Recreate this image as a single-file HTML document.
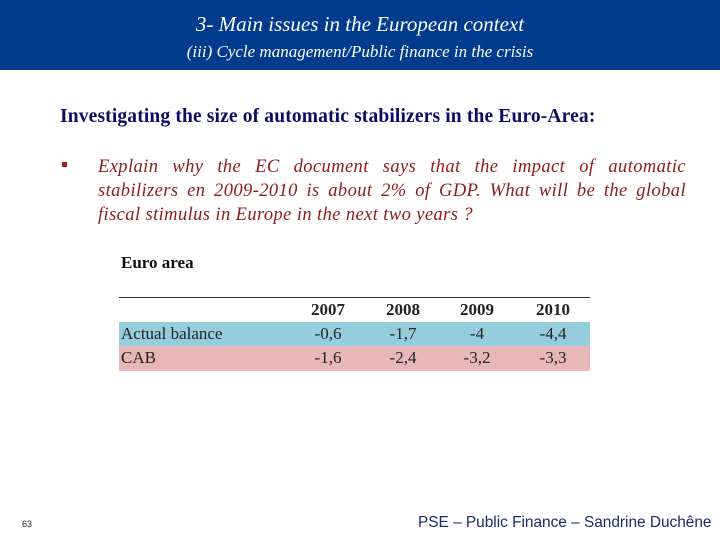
<!DOCTYPE html>
<html><head><meta charset="utf-8"><style>
body{margin:0;width:720px;height:540px;position:relative;background:#fff;overflow:hidden;font-family:"Liberation Serif",serif}
.a{position:absolute}
#hdr{left:0;top:0;width:720px;height:70px;background:#003b8e;color:#fff;font-style:italic;text-align:center}
#t1{top:12px;width:720px;font-size:21px}
#t2{top:42px;width:720px;font-size:17px}
#inv{left:60px;top:106px;font-size:19.5px;letter-spacing:0.15px;font-weight:bold;color:#0c0c66;white-space:nowrap}
#bul{left:62px;top:162px;width:5px;height:5px;background:#b01818}
#para{left:98px;top:155px;width:588px;font-size:18.5px;letter-spacing:0.4px;font-style:italic;color:#8e1b1b;line-height:24px}
#para .j{display:block;text-align:justify;text-align-last:justify;white-space:nowrap}
#ea{left:121px;top:253px;font-size:17px;font-weight:bold;color:#111}
#rule{left:119px;top:297px;width:471px;height:1px;background:#333}
.row{left:119px;width:471px;height:24px;font-size:17px;color:#222}
.row span{position:absolute;top:2px;transform:translateX(-50%)}
#foot{left:418px;top:514px;font-family:"Liberation Sans",sans-serif;font-size:15.4px;color:#1a2a6a;white-space:nowrap}
#pg{left:22px;top:519px;font-family:"Liberation Sans",sans-serif;font-size:9px;color:#222}
</style></head><body>
<div id="hdr" class="a">
<div id="t1" class="a">3- Main issues in the European context</div>
<div id="t2" class="a">(iii) Cycle management/Public finance in the crisis</div>
</div>
<div id="inv" class="a">Investigating the size of automatic stabilizers in the Euro-Area:</div>
<div id="bul" class="a"></div>
<div id="para" class="a"><span class="j">Explain why the EC document says that the impact of automatic</span><span class="j">stabilizers en 2009-2010 is about 2% of GDP. What will be the global</span><span>fiscal stimulus in Europe in the next two years ?</span></div>
<div id="ea" class="a">Euro area</div>
<div id="rule" class="a"></div>
<div class="a row" style="top:298px;font-weight:bold">
<span style="left:209px">2007</span><span style="left:284px">2008</span><span style="left:358px">2009</span><span style="left:434px">2010</span></div>
<div class="a row" style="top:322px;background:#96cddd">
<span style="left:2px;transform:none">Actual balance</span><span style="left:209px">-0,6</span><span style="left:284px">-1,7</span><span style="left:358px">-4</span><span style="left:434px">-4,4</span></div>
<div class="a row" style="top:346px;height:25px;background:#e8b8b8">
<span style="left:2px;transform:none">CAB</span><span style="left:209px">-1,6</span><span style="left:284px">-2,4</span><span style="left:358px">-3,2</span><span style="left:434px">-3,3</span></div>
<div id="pg" class="a">63</div>
<div id="foot" class="a">PSE – Public Finance – Sandrine Duchêne</div>
</body></html>
